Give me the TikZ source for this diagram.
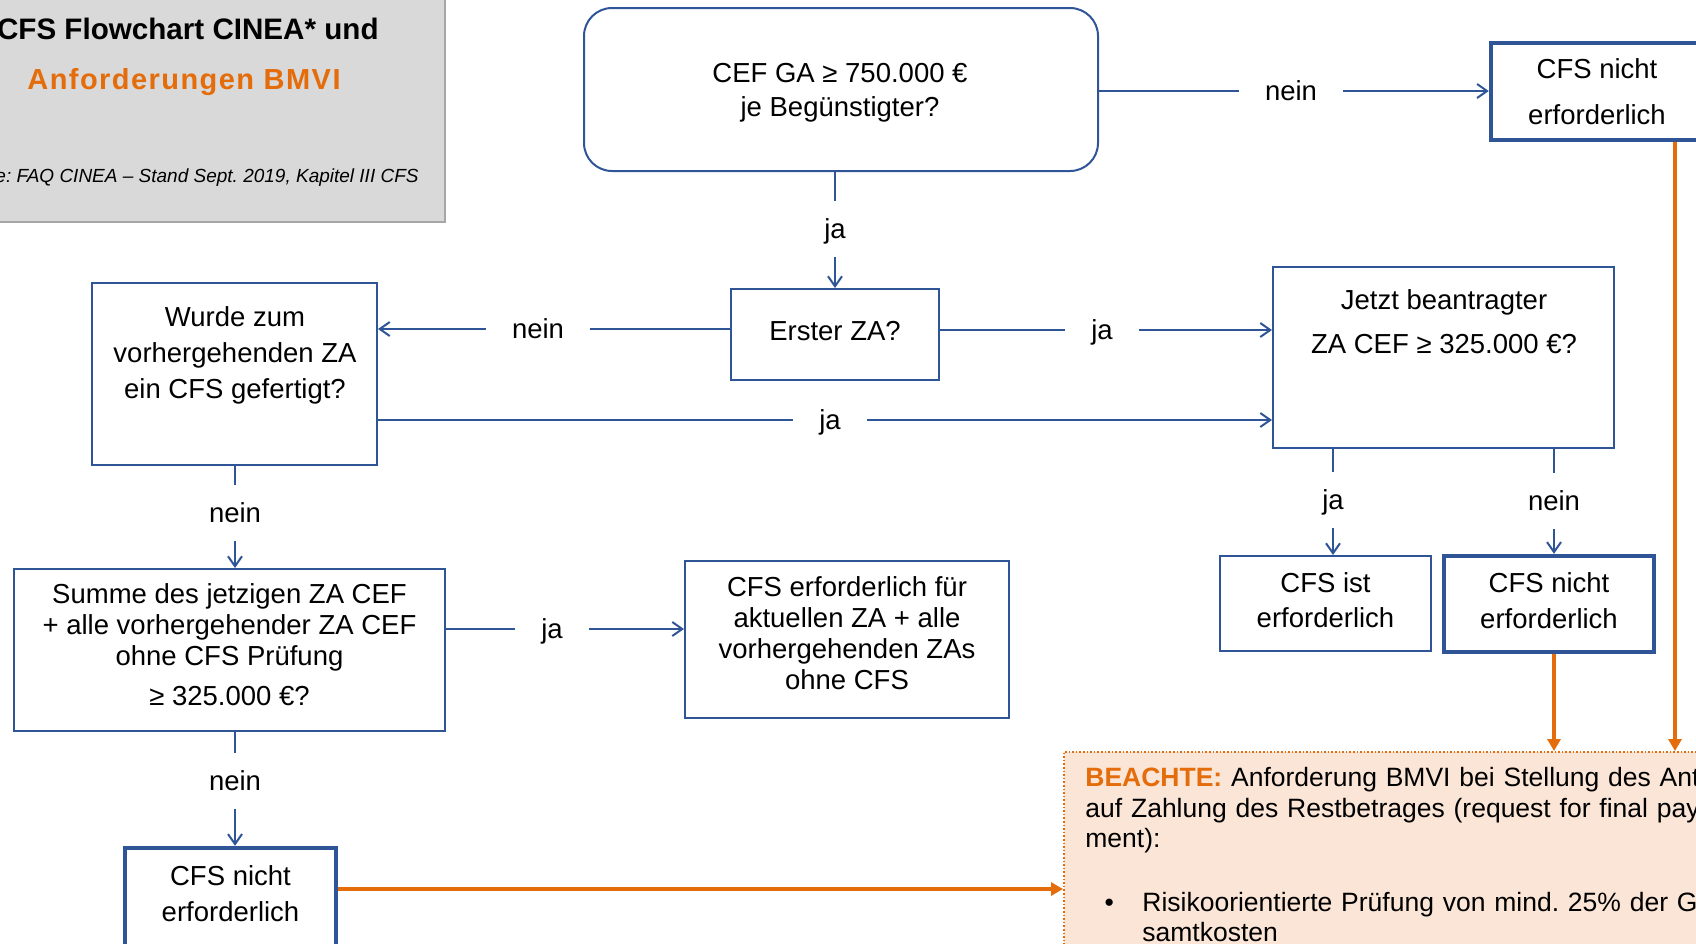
\documentclass[tikz,border=0pt]{standalone}
\usepackage{fontspec}
\setmainfont{Liberation Sans}
\usetikzlibrary{arrows.meta}
\frenchspacing

\definecolor{flowblue}{RGB}{47,85,151}
\definecolor{bmviorange}{RGB}{228,108,10}
\definecolor{notefill}{RGB}{251,229,214}
\definecolor{titlegray}{RGB}{217,217,217}
\definecolor{titleline}{RGB}{166,166,166}

\begin{document}
\begin{tikzpicture}[x=0.5pt, y=-0.5pt,
    every node/.style={font=\fontsize{13.75pt}{17.5pt}\selectfont, align=center},
    box/.style={draw=flowblue, line width=1pt, inner sep=2pt},
    thickbox/.style={box, line width=2.2pt},
    boxtext/.style={inner sep=0pt},
    lbl/.style={inner xsep=13pt, inner ysep=8pt, text height=10.6pt, text depth=1.4pt},
    flow/.style={draw=flowblue, line width=1pt},
    flowarr/.style={flow, -{Straight Barb[length=5pt,width=7pt]}},
    hint/.style={draw=bmviorange, line width=1.8pt, -{Triangle[length=6pt,width=6.5pt]}}]
  \useasboundingbox (0,0) rectangle (1696,943);
  \clip (0,0) rectangle (1696,943);

  % title panel
  \draw[fill=titlegray, draw=titleline, line width=1.2pt] (-10,-10) rectangle (445,222);
  \node[anchor=base east, inner sep=0pt, font=\fontsize{14.8pt}{17pt}\selectfont\bfseries] (title) at (379,39) {CFS Flowchart CINEA* und};
  \node[anchor=base west, inner sep=0pt, text=bmviorange, font=\fontsize{14.5pt}{17pt}\selectfont\bfseries\addfontfeatures{LetterSpace=5}] (subtitle) at (27,89) {Anforderungen BMVI};
  \node[anchor=base east, inner sep=0pt, font=\fontsize{9.5pt}{11pt}\selectfont\itshape] (source) at (419,182) {Quelle: FAQ CINEA – Stand Sept. 2019, Kapitel III CFS};

  % boxes
  \node[box, rounded corners=14pt, minimum width=257pt, minimum height=81.5pt] (cef) at (841,89.5) {};
  \node[boxtext, font=\fontsize{13.75pt}{17pt}\selectfont] (cefT) at (840,92.5) {CEF GA ≥ 750.000 €\\je Begünstigter?};
  \node[thickbox, minimum width=106pt, minimum height=48.5pt, font=\fontsize{13.75pt}{23pt}\selectfont] (nicht1) at (1597,91.5) {CFS nicht\\erforderlich};
  \node[box, minimum width=104pt, minimum height=45.5pt, text height=10pt, text depth=4.3pt] (erster) at (835,334.5) {Erster ZA?};
  \node[box, minimum width=170.5pt, minimum height=90.5pt] (jetzt) at (1443.5,357.5) {};
  \node[boxtext, font=\fontsize{13.75pt}{22pt}\selectfont] (jetztT) at (1444,322) {Jetzt beantragter\\ZA CEF ≥ 325.000 €?};
  \node[box, minimum width=142.5pt, minimum height=91pt] (wurde) at (234.5,374) {};
  \node[boxtext, font=\fontsize{13.75pt}{18pt}\selectfont] (wurdeT) at (235,355) {Wurde zum\\vorhergehenden ZA\\ein CFS gefertigt?};
  \node[box, minimum width=215.5pt, minimum height=81pt] (summe) at (229.5,650) {};
  \node[boxtext, font=\fontsize{13.75pt}{15.5pt}\selectfont] (summeT) at (229.5,644.5) {Summe des jetzigen ZA CEF\\+ alle vorhergehender ZA CEF\\ohne CFS Prüfung\\[4.5pt]≥ 325.000 €?};
  \node[box, minimum width=162pt, minimum height=78.5pt] (erf) at (847,639.5) {};
  \node[boxtext, font=\fontsize{13.75pt}{15.5pt}\selectfont] (erfT) at (847,633) {CFS erforderlich für\\aktuellen ZA + alle\\vorhergehenden ZAs\\ohne CFS};
  \node[box, minimum width=105.5pt, minimum height=47.5pt] (ist) at (1325.5,603.5) {};
  \node[boxtext] (istT) at (1325.5,599.7) {CFS ist\\erforderlich};
  \node[thickbox, minimum width=105pt, minimum height=48pt] (nicht2) at (1549,604) {};
  \node[boxtext, font=\fontsize{13.75pt}{18pt}\selectfont] (nicht2T) at (1549,600.8) {CFS nicht\\erforderlich};
  \node[thickbox, minimum width=105.5pt, minimum height=50pt] (nicht3) at (230.5,898) {};
  \node[boxtext, font=\fontsize{13.75pt}{18pt}\selectfont] (nicht3T) at (230.5,893.7) {CFS nicht\\erforderlich};

  % note
  \node[draw=bmviorange, densely dotted, line width=0.8pt, fill=notefill, anchor=north west, minimum width=330pt, minimum height=110pt] (beachte) at (1063,751) {};
  \node[anchor=north west, inner sep=0pt, align=left, text width=400pt, font=\fontsize{13.25pt}{15.25pt}\selectfont] (beachteT) at (1085,767) {\textcolor{bmviorange}{\textbf{BEACHTE:}} Anforderung BMVI bei Stellung des Antrags\\
    auf Zahlung des Restbetrages (request for final pay-\\
    ment):\\[16.5pt]
    \makebox[28.5pt][l]{\hspace{9.6pt}\textbullet}Risikoorientierte Prüfung von mind. 25\% der Ge-\\
    \hspace*{28.5pt}samtkosten};

  % connectors
  \node[lbl] (nein1) at (1291,91) {nein};
  \draw[flow] (nein1) -- (nein1 -| cef.east);
  \draw[flowarr] (nein1) -- (nein1 -| nicht1.west);

  \node[lbl] (ja1) at (835,229) {ja};
  \draw[flow] (ja1) -- (ja1 |- cef.south);
  \draw[flowarr] (ja1) -- (erster);

  \node[lbl] (nein2) at (538,329) {nein};
  \draw[flow] (nein2) -- (nein2 -| erster.west);
  \draw[flowarr] (nein2) -- (nein2 -| wurde.east);

  \node[lbl] (ja2) at (1102,330) {ja};
  \draw[flow] (ja2) -- (ja2 -| erster.east);
  \draw[flowarr] (ja2) -- (ja2 -| jetzt.west);

  \node[lbl] (ja3) at (830,420) {ja};
  \draw[flow] (ja3) -- (ja3 -| wurde.east);
  \draw[flowarr] (ja3) -- (ja3 -| jetzt.west);

  \node[lbl] (nein3) at (235,513) {nein};
  \draw[flow] (nein3) -- (nein3 |- wurde.south);
  \draw[flowarr] (nein3) -- (nein3 |- summe.north);

  \node[lbl] (ja4) at (552,629) {ja};
  \draw[flow] (ja4) -- (ja4 -| summe.east);
  \draw[flowarr] (ja4) -- (ja4 -| erf.west);

  \node[lbl] (nein4) at (235,781) {nein};
  \draw[flow] (nein4) -- (nein4 |- summe.south);
  \draw[flowarr] (nein4) -- (nein4 |- nicht3.north);

  \node[lbl] (ja5) at (1333,500) {ja};
  \draw[flow] (ja5) -- (ja5 |- jetzt.south);
  \draw[flowarr] (ja5) -- (ja5 |- ist.north);

  \node[lbl] (nein5) at (1554,501) {nein};
  \draw[flow] (nein5) -- (nein5 |- jetzt.south);
  \draw[flowarr] (nein5) -- (nein5 |- nicht2.north);

  % to the note
  \draw[hint] ([xshift=39pt]nicht1.south) -- ([xshift=39pt]nicht1.south |- beachte.north);
  \draw[hint] ([xshift=2.5pt]nicht2.south) -- ([xshift=2.5pt]nicht2.south |- beachte.north);
  \draw[hint] ([yshift=4.5pt]nicht3.east) -- ([yshift=4.5pt]nicht3.east -| beachte.west);
\end{tikzpicture}
\end{document}
